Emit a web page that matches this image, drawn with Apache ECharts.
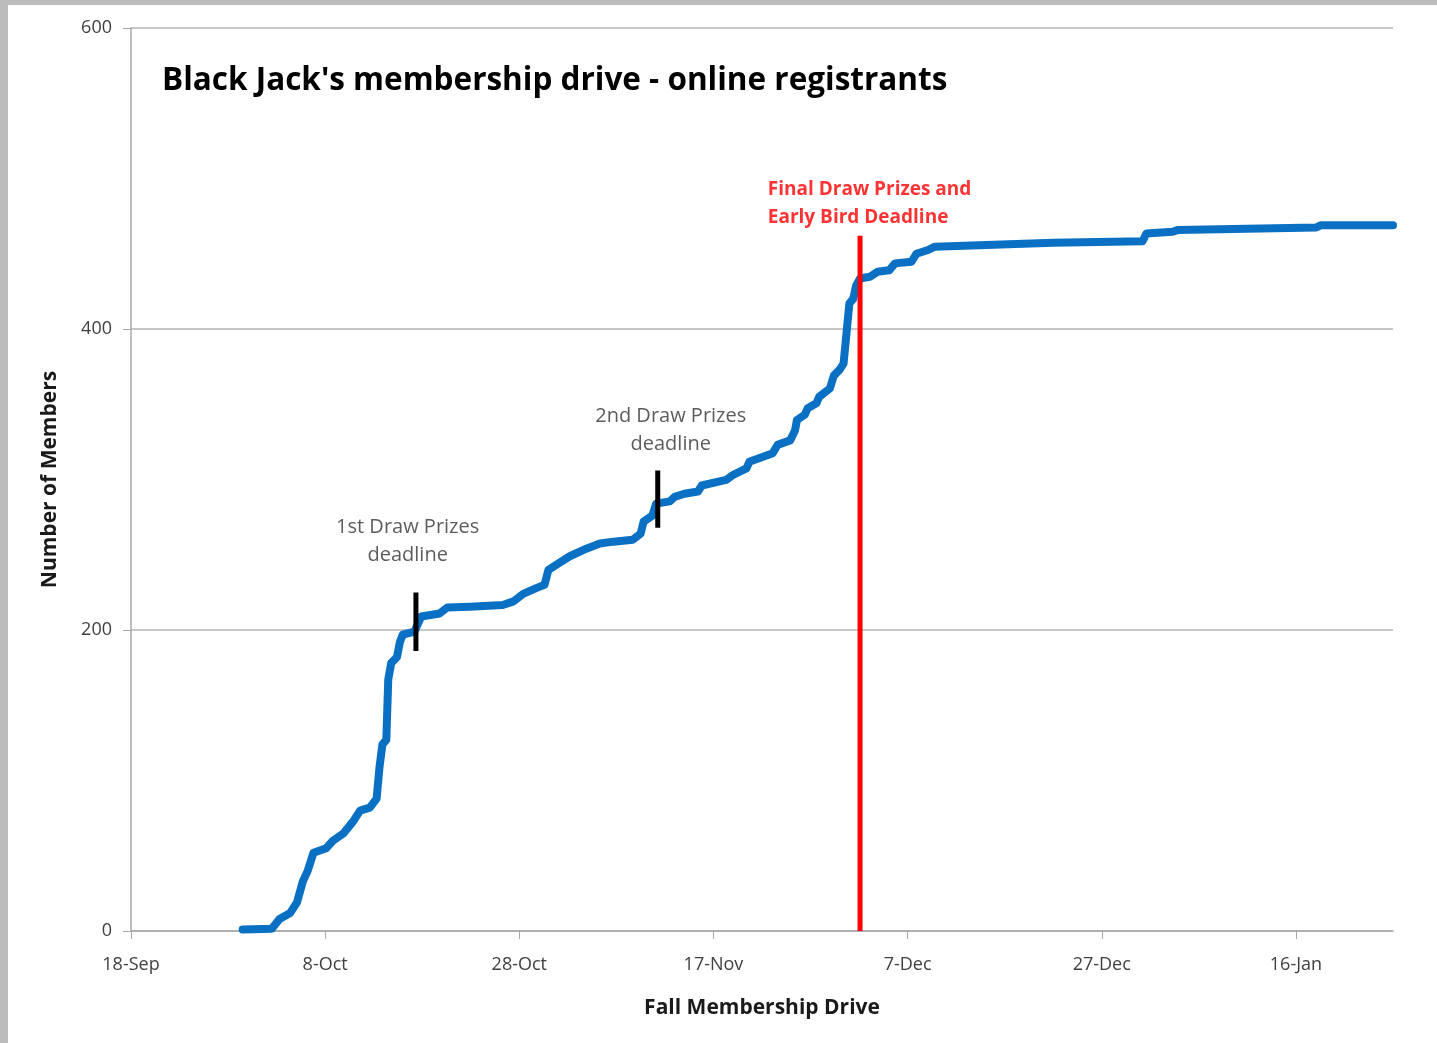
<!DOCTYPE html>
<html>
<head>
<meta charset="utf-8">
<title>Black Jack's membership drive</title>
<script src="https://cdn.jsdelivr.net/npm/echarts@6/dist/echarts.min.js"></script>
<style>
  html, body { margin: 0; padding: 0; }
  body { width: 1437px; height: 1043px; background: #bcbcbc; position: relative; overflow: hidden; }
  #main { position: absolute; left: 8px; top: 5px; width: 1429px; height: 1038px; background: #fff; }
</style>
</head>
<body>
<div id="main"></div>
<script>
// days counted from 18-Sep
const startDate = Date.UTC(2010, 8, 18)
const monthNames = ['Jan', 'Feb', 'Mar', 'Apr', 'May', 'Jun', 'Jul', 'Aug', 'Sep', 'Oct', 'Nov', 'Dec']

// cumulative online registrants
const days = [
  11.5, 14.5, 15.3, 16.4, 17.1, 17.7, 18.2, 18.8, 20.1, 20.8,
  21.9, 22.9, 23.6, 24.6, 25.3, 25.6, 25.9, 26.3, 26.5, 26.8,
  27.4, 27.7, 28.0, 29.2, 29.9, 31.8, 32.6, 34.9, 38.3, 39.4,
  40.4, 41.8, 42.6, 43.0, 44.2, 45.2, 46.9, 48.3, 49.7, 51.7,
  52.5, 52.8, 53.7, 54.1, 55.5, 56.0, 57.0, 58.4, 58.8, 61.3,
  62.0, 63.4, 63.7, 66.1, 66.6, 67.9, 68.4, 68.6, 69.4, 69.7,
  70.6, 70.9, 72.0, 72.4, 73.0, 73.4, 73.7, 74.0, 74.4, 74.7,
  75.1, 76.1, 76.9, 78.1, 78.7, 80.4, 80.9, 82.1, 82.8, 88.1,
  95.0, 104.2, 104.6, 107.3, 107.8, 122.1, 122.6, 130
]
const members = [
  1, 1.5, 8, 12, 19, 33, 40, 52, 55, 60,
  65, 73, 80, 82, 88, 109, 124, 127, 167, 178,
  182, 192, 197, 199, 209, 211, 215, 215.5, 216.6, 219,
  224, 228, 230, 240, 245, 249, 254, 257.5, 258.7, 260,
  264, 272, 276, 284, 285.5, 288.5, 290.5, 292, 296, 299.7,
  303, 307.4, 311.8, 317.4, 323, 326, 332.6, 339.5, 343, 347.3,
  350.6, 355, 360.5, 369, 373, 377, 397, 417, 420, 429,
  433.6, 434.7, 438, 439, 443.6, 444.7, 450, 452.5, 454.7, 455.8,
  457.3, 458.3, 463.5, 464.6, 465.7, 467.5, 469, 469
]

// draw prize deadlines (short black bars)
const drawDays = [29.35, 54.26]
const drawLow = [186, 268]
const drawHigh = [225, 306]
const drawLabels = ['1st Draw Prizes\ndeadline', '2nd Draw Prizes\ndeadline']
const drawLabelDays = [28.5, 55.6]
const drawLabelValues = [259, 333]

// final draw / early bird deadline
const finalDay = 75.1
const finalTop = 462
const finalLabel = 'Final Draw Prizes and\nEarly Bird Deadline'
const finalLabelPos = [65.6, 483]

const xTicks = [0, 20, 40, 60, 80, 100, 120]

function dayLabel(v) {
  if (xTicks.indexOf(v) < 0) return ''
  const d = new Date(startDate + v * 86400000)
  return d.getUTCDate() + '-' + monthNames[d.getUTCMonth()]
}

const font = '"Open Sans", Lato, sans-serif'
const lineData = days.map((d, i) => [d, members[i]])

const series = [
  {
    type: 'line',
    data: lineData,
    showSymbol: false,
    lineStyle: { color: '#0a70c4', width: 8, join: 'round', cap: 'round' },
    z: 3,
  },
]
drawDays.forEach((d, i) => {
  series.push({
    type: 'line',
    data: [[d, drawLow[i]], [d, drawHigh[i]]],
    showSymbol: false,
    lineStyle: { color: '#000', width: 5 },
    z: 4,
  })
  series.push({
    type: 'scatter',
    data: [[drawLabelDays[i], drawLabelValues[i]]],
    symbolSize: 0,
    label: {
      show: true,
      position: 'inside',
      formatter: drawLabels[i],
      color: '#333',
      fontSize: 20,
      lineHeight: 28,
      fontFamily: font,
      align: 'center',
    },
  })
})
series.push({
  type: 'line',
  data: [[finalDay, 0], [finalDay, finalTop]],
  showSymbol: false,
  lineStyle: { color: '#ff0000', width: 5 },
  z: 5,
})
series.push({
  type: 'scatter',
  data: [finalLabelPos],
  symbolSize: 0,
  label: {
    show: true,
    position: 'inside',
    formatter: finalLabel,
    color: '#ff0000',
    fontSize: 19,
    fontWeight: 'bold',
    lineHeight: 28,
    fontFamily: font,
    align: 'left',
  },
})

let myChart = echarts.init(document.getElementById('main'))
let option = {
  animation: false,
  title: {
    text: "Black Jack's membership drive - online registrants",
    left: 149,
    top: 55,
    textStyle: { fontSize: 31.5, fontWeight: 'bold', color: '#000', fontFamily: font },
  },
  grid: { left: 123, right: 44, top: 23, bottom: 112 },
  xAxis: {
    type: 'value',
    min: 0,
    max: 130,
    interval: 20,
    name: 'Fall Membership Drive',
    nameLocation: 'middle',
    nameGap: 67,
    nameTextStyle: { fontSize: 21, fontWeight: 'bold', color: '#1a1a1a', fontFamily: font },
    axisLine: { lineStyle: { color: '#a8a8a8', width: 1.5 } },
    axisTick: { show: true, length: 8, lineStyle: { color: '#a8a8a8' } },
    axisLabel: { formatter: dayLabel, fontSize: 18, color: '#404040', margin: 25, fontFamily: font, showMaxLabel: false },
    splitLine: { show: false },
  },
  yAxis: {
    type: 'value',
    min: 0,
    max: 600,
    interval: 200,
    name: 'Number of Members',
    nameLocation: 'middle',
    nameGap: 70,
    nameTextStyle: { fontSize: 21, fontWeight: 'bold', color: '#1a1a1a', fontFamily: font },
    axisLine: { show: true, lineStyle: { color: '#a8a8a8', width: 1.5 } },
    axisTick: { show: true, inside: false, length: 8, lineStyle: { color: '#a8a8a8' } },
    axisLabel: { fontSize: 18, color: '#404040', margin: 19, fontFamily: font },
    splitLine: { lineStyle: { color: '#b4b4b4', width: 1.5 } },
  },
  series: series,
}
myChart.setOption(option)
</script>
</body>
</html>
